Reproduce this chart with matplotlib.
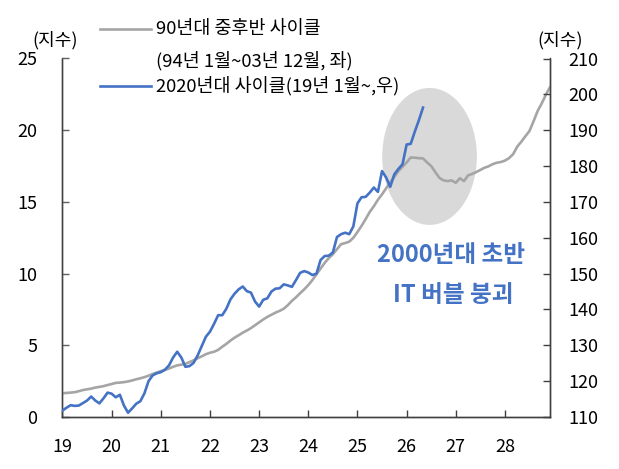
import numpy as np
import matplotlib
matplotlib.use("Agg")
import matplotlib.pyplot as plt
from matplotlib.patches import Ellipse
from matplotlib.lines import Line2D

plt.rcParams['font.family'] = ['Noto Sans CJK KR', 'DejaVu Sans']

# ---- data ----
year_labels = ['19', '20', '21', '22', '23', '24', '25', '26', '27', '28']

# 90s cycle (Jan 1994 - Dec 2003), left axis
gray_90s = [
    1.65, 1.68, 1.70, 1.73, 1.80, 1.88, 1.93, 1.98, 2.05, 2.10, 2.15, 2.23,
    2.30, 2.38, 2.40, 2.43, 2.48, 2.55, 2.63, 2.70, 2.78, 2.88, 3.00, 3.10,
    3.20, 3.28, 3.38, 3.50, 3.60, 3.65, 3.70, 3.83, 3.95, 4.10, 4.23, 4.38,
    4.48, 4.55, 4.68, 4.90, 5.10, 5.33, 5.53, 5.70, 5.88, 6.03, 6.20, 6.40,
    6.60, 6.80, 6.98, 7.13, 7.28, 7.40, 7.55, 7.80, 8.10, 8.35, 8.63, 8.90,
    9.20, 9.55, 9.95, 10.35, 10.75, 11.08, 11.35, 11.70, 12.05, 12.13, 12.23, 12.50,
    12.90, 13.33, 13.80, 14.30, 14.70, 15.15, 15.53, 15.95, 16.35, 16.75, 17.15, 17.45,
    17.75, 18.10, 18.08, 18.05, 18.03, 17.75, 17.50, 17.08, 16.68, 16.50, 16.45, 16.50,
    16.33, 16.65, 16.45, 16.85, 16.95, 17.08, 17.23, 17.38, 17.48, 17.63, 17.73, 17.78,
    17.88, 18.05, 18.33, 18.85, 19.20, 19.58, 19.95, 20.63, 21.35, 21.88, 22.48, 23.00,
]

# 2020s cycle (Jan 2019 - ), right axis
blue_2020s = [
    111.8, 112.6, 113.3, 113.1, 113.2, 113.9, 114.6, 115.7, 114.6, 113.8, 115.2, 116.8,
    116.5, 115.5, 116.2, 113.2, 111.2, 112.4, 113.7, 114.4, 116.6, 120.0, 121.6, 122.2,
    122.5, 123.2, 124.4, 126.6, 128.2, 126.6, 124.0, 124.2, 125.1, 127.2, 129.8, 132.4,
    133.8, 136.0, 138.4, 138.4, 140.2, 142.8, 144.4, 145.6, 146.4, 145.1, 144.7, 142.2,
    140.8, 142.7, 143.1, 145.0, 145.8, 145.9, 147.0, 146.7, 146.3, 148.2, 150.2, 150.7,
    150.3, 149.6, 150.0, 153.8, 154.9, 155.0, 155.9, 160.2, 161.0, 161.4, 161.0, 163.2,
    169.6, 171.3, 171.4, 172.6, 174.0, 172.8, 178.6, 176.8, 174.2, 177.7, 179.2, 180.5,
    186.0, 186.2, 189.6, 192.8, 196.3,
]

left_ticks = [0, 5, 10, 15, 20, 25]
right_ticks = [110, 120, 130, 140, 150, 160, 170, 180, 190, 200, 210]

GRAY = '#A5A5A5'
BLUE = '#4472C4'
SPINE = '#404040'

W, H = 619, 469
fig = plt.figure(figsize=(W / 100, H / 100), dpi=100)
ax = fig.add_axes([62.5 / W, 1 - 417 / H, (550 - 62.5) / W, (417 - 58.5) / H])
ax2 = ax.twinx()

x_gray = np.arange(len(gray_90s))
x_blue = np.arange(len(blue_2020s))

ell = Ellipse((89.6, 18.17), width=23.1, height=9.55, facecolor='#D9D9D9',
              edgecolor='none', zorder=1)
ax.add_patch(ell)
ax.plot(x_gray, gray_90s, color=GRAY, lw=1.9, zorder=3)
ax2.plot(x_blue, blue_2020s, color=BLUE, lw=1.9, zorder=3)

ax.set_xlim(0, 119)
ax.set_ylim(0, 25)
ax2.set_ylim(110, 210)
ax.set_xticks(np.arange(0, 120, 12))
ax.set_xticklabels(year_labels)
ax.set_yticks(left_ticks)
ax2.set_yticks(right_ticks)

for a in (ax, ax2):
    a.spines['top'].set_visible(False)
    for s in ('left', 'right', 'bottom'):
        a.spines[s].set_color(SPINE)
        a.spines[s].set_linewidth(1.0)
ax.spines['left'].set_color('#606060')

ax.tick_params(axis='x', direction='in', length=5, width=1, color=SPINE,
               labelsize=13, pad=15)
ax.tick_params(axis='y', direction='in', length=5, width=1, color='#606060',
               labelsize=13, pad=18)
ax2.tick_params(axis='y', direction='in', length=5, width=1, color=SPINE,
                labelsize=13, pad=13)

ax.text(94.8, 11.3, '2000년대 초반', color=BLUE, fontsize=17, fontweight='bold',
        ha='center', va='center', zorder=5)
ax.text(95.3, 8.5, 'IT 버블 붕괴', color=BLUE, fontsize=17, fontweight='bold',
        ha='center', va='center', zorder=5)

# unit labels
fig.text(55 / W, 1 - 40 / H, '(지수)', ha='center', va='center', fontsize=13)
fig.text(560 / W, 1 - 40 / H, '(지수)', ha='center', va='center', fontsize=13)

# legend
fig.add_artist(Line2D([100 / W, 151 / W], [1 - 29 / H] * 2, color=GRAY, lw=1.9))
fig.add_artist(Line2D([100 / W, 151 / W], [1 - 86 / H] * 2, color=BLUE, lw=1.9))
fig.text(156 / W, 1 - 29 / H, '90년대 중후반 사이클', va='center', fontsize=13.3)
fig.text(156 / W, 1 - 61 / H, '(94년 1월~03년 12월, 좌)', va='center', fontsize=13.3)
fig.text(156 / W, 1 - 86 / H, '2020년대 사이클(19년 1월~,우)', va='center', fontsize=13.3)

fig.savefig('out.png', dpi=100)
